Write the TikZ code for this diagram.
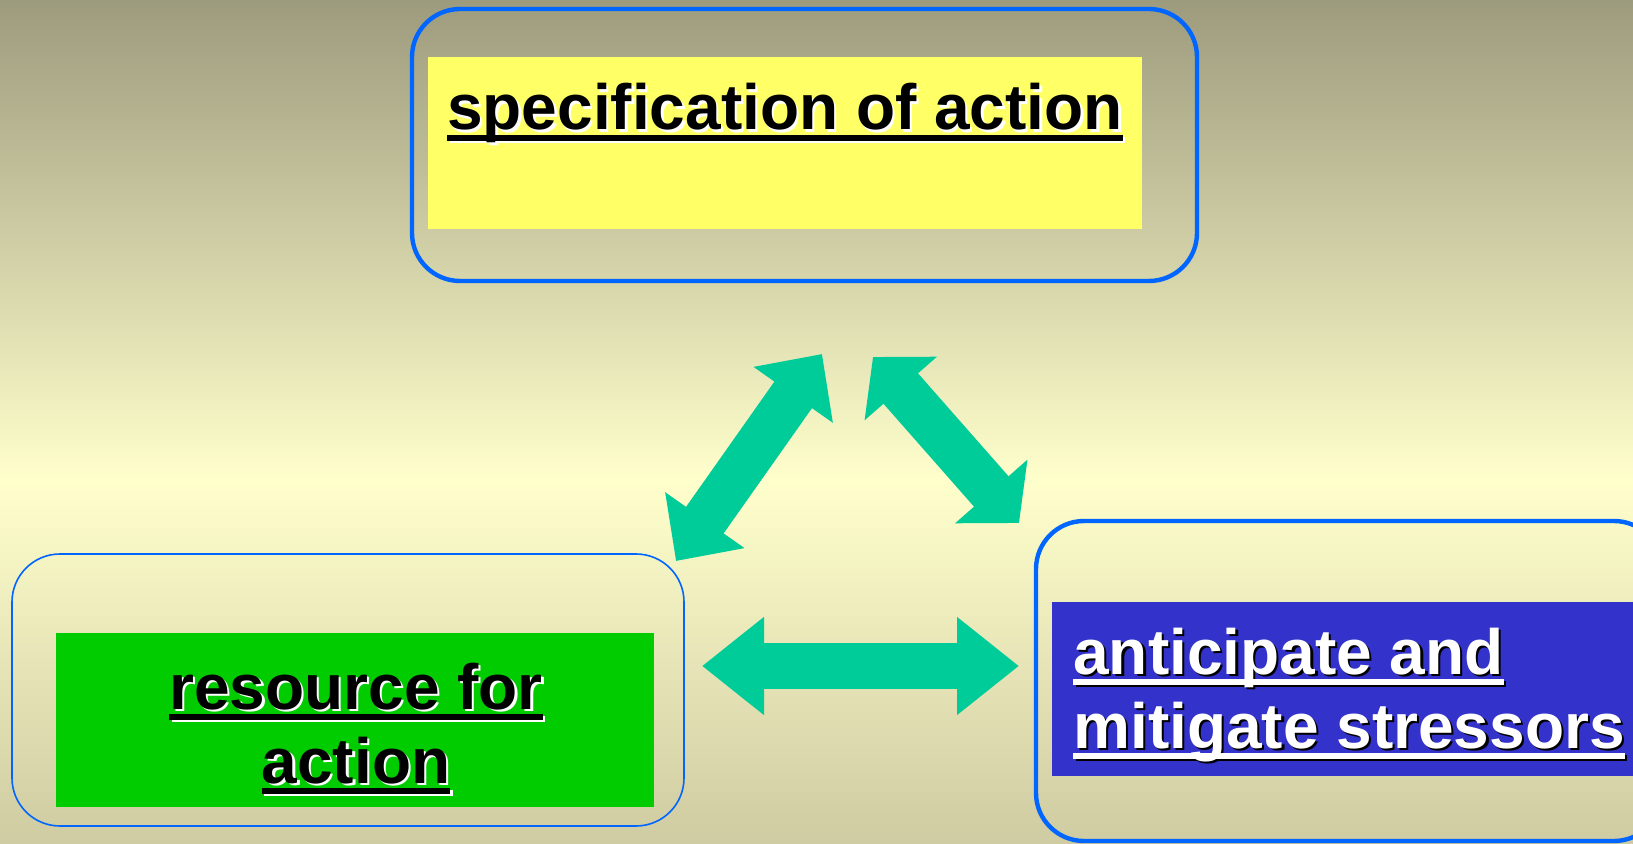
\documentclass[tikz,border=0pt]{standalone}
\usepackage{fontspec}
\setmainfont{Liberation Sans}
\usepackage{xcolor}
\usetikzlibrary{arrows.meta,fit}

\definecolor{bgtop}{HTML}{9D9B7D}
\definecolor{bgmid}{HTML}{FFFFCC}
\definecolor{bgbot}{HTML}{CFCBA2}
\definecolor{frameblue}{HTML}{0066FF}
\definecolor{specyellow}{HTML}{FFFF66}
\definecolor{resgreen}{HTML}{00CC00}
\definecolor{antiblue}{HTML}{3333CC}
\definecolor{arrowgreen}{HTML}{00CC99}

% underlined text, thick rule
\newcommand{\ulin}[1]{\setbox0\hbox{#1}\rlap{\vrule height -2.5pt depth 5.5pt width \wd0}\box0}
% text with a drop shadow
\newcommand{\shtext}[3]{\leavevmode\rlap{\kern1.2pt\raisebox{-1.2pt}{\color{#1}\ulin{#3}}}{\color{#2}\ulin{#3}}}

\begin{document}
\begin{tikzpicture}[
x=0.5pt,y=-0.5pt,
frame/.style={draw=frameblue,rounded corners=24pt,inner sep=0pt,line width=2.2pt},
thinframe/.style={frame,line width=0.8pt},
panel/.style={inner sep=0pt},
label/.style={inner sep=0pt,font=\bfseries\fontsize{32}{37}\selectfont},
fatarr/.style={arrowgreen,line width=23pt,{Triangle[length=#1,width=47pt]}-{Triangle[length=#1,width=47pt]}}
]
\useasboundingbox (0,0) rectangle (1633,844);
\clip (0,0) rectangle (1633,844);
% background
\fill[top color=bgtop,bottom color=bgmid] (0,0) rectangle (1633,480);
\fill[top color=bgmid,bottom color=bgbot] (0,479) rectangle (1633,844);

% boxes
\node[frame,fit={(412,9) (1197,281)}] (spec) {};
\node[panel,fill=specyellow,fit={(428,57) (1142,229)}] (specin) {};
\node[label,anchor=base] (spectxt) at (785,130) {\shtext{white}{black}{specification of action}};

\node[thinframe,fit={(12,554) (684,826)}] (res) {};
\node[panel,fill=resgreen,fit={(56,633) (654,807)}] (resin) {};
\node[label,align=center,anchor=base] (restxt) at (356,783)
  {\shtext{white}{black}{resource for}\\\shtext{white}{black}{action}};

\node[frame,fit={(1036,521) (1662,841)}] (anti) {};
\node[panel,fill=antiblue,fit={(1052,602) (1652,776)}] (antiin) {};
\node[label,align=left,anchor=base west] (antitxt) at (1073,748)
  {\shtext{black}{white}{anticipate and}\\\shtext{black}{white}{mitigate stressors}};

% arrow ends
\coordinate (rs) at (676,561);
\coordinate (sr) at (822,354);
\coordinate (sa) at (873,357);
\coordinate (as) at (1019,523);
\coordinate (ra) at (702,666);
\coordinate (ar) at (1019,666);

\draw[fatarr=25pt] (rs) -- (sr);
\draw[fatarr=21pt] (sa) -- (as);
\draw[fatarr=31pt] (ra) -- (ar);
\end{tikzpicture}
\end{document}
